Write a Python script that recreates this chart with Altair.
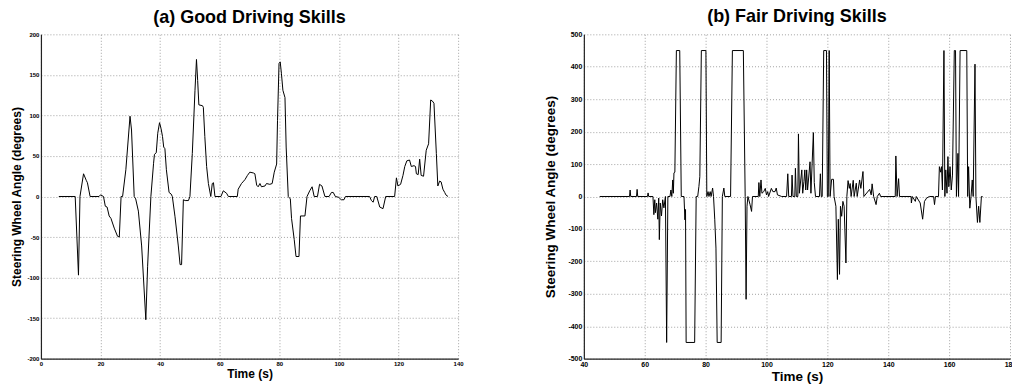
import altair as alt
import pandas as pd

# (a) Good driving skills: time (s) and steering wheel angle (degrees)
good_t = [6, 11.5, 12.6, 13.1, 14.3, 15.2, 15.6, 16.5, 19.5, 20, 21, 21.6, 22.2, 22.9, 23.5, 24.6, 25.7, 26.3,
          26.9, 27.4, 28.5, 29.9, 30.4, 31.3, 31.8, 32.7, 33.8, 35.2, 35.8, 36.9, 37.8, 38.1, 38.7, 39.2, 39.8,
          40.3, 40.8, 41.2, 41.6, 42.1, 43, 43.7, 44.1, 45, 46.1, 46.7, 47.2, 47.8, 48.4, 49.5, 50, 50.8, 51.7,
          52.2, 52.6, 53, 54.2, 54.5, 55, 55.6, 56.2, 57, 57.5, 57.9, 58.4, 60.4, 61.2, 62.3, 62.9, 65.9, 66.2,
          67.3, 67.8, 68.5, 69.3, 70.1, 71.3, 71.8, 72.4, 72.9, 73.5, 74, 75.2, 75.7, 76.8, 77.6, 78.3, 79.1,
          79.4, 79.9, 80.3, 80.7, 81.2, 81.9, 82.3, 83, 83.7, 84.1, 85, 85.6, 86.6, 87.1, 88.6, 89.3, 90.2, 91,
          91.7, 92.8, 93.5, 94.3, 95.3, 96.7, 97.5, 98.1, 98.8, 99.9, 100.8, 101.7, 102.2, 110.3, 110.9, 111.5,
          112, 112.7, 113.7, 114.8, 115.7, 118.7, 119.3, 119.8, 120.7, 121.5, 122.1, 122.8, 123.7, 124.3, 125.2,
          125.7, 126, 126.6, 127.1, 127.6, 128.4, 129.3, 130.1, 130.8, 131.3, 131.9, 132.7, 133.2, 133.8, 134.3,
          134.9, 135.5, 135.9, 136.6]
good_y = [0, 0, -97, 0, 28, 20, 17, 0, 0, 2, 0, -12, -13, -24, -27, -39, -49, -50,
          0, 0, 33, 99, 82, 0, -3, -18, -61, -152, -86, 0, 41, 52, 54, 78, 91,
          84, 74, 61, 59, 33, 5, 3, 0, -25, -61, -84, -84, -4, -5, -5, 0, 53, 131,
          169, 143, 113, 112, 110, 74, 37, 16, 0, 16, 17, 0, 0, 7, 4, 0, 0, 9,
          16, 18, 21, 26, 30, 29, 28, 14, 12, 16, 12, 13, 16, 15, 16, 30, 40,
          94, 164, 166, 152, 131, 122, 61, 0, -3, -27, -53, -74, -74, -24, -24, 0, 7, 12,
          0, 0, 15, 13, 0, 0, 5, 5, 0, -1, -4, -4, 0, 0, -5, -7,
          0, 0, -13, -15, 0, 0, 23, 13, 15, 26, 37, 44, 45, 37, 38,
          37, 28, 27, 46, 26, 25, 57, 65, 119, 118, 115, 53, 13, 19, 18,
          9, 5, 2, 0]

# (b) Fair driving skills
fair_t = [45.2, 55, 55.2, 55.4, 57.3, 57.5, 57.7, 60.9, 61.1, 61.3, 62.7, 63, 63.3, 63.5, 63.9, 64.3, 64.6,
          64.8, 65.1, 65.5, 65.9, 66.3, 66.8, 67.2, 67.6, 68.3, 68.6, 68.9, 69.2, 69.4, 69.6, 69.9, 70.4, 71.5,
          72, 72.9, 73.2, 73.4, 73.6, 76.4, 76.9, 77.4, 77.8, 78.1, 78.6, 80.1, 80.4, 80.8, 81.1, 81.5, 81.8,
          82.3, 82.6, 83, 83.4, 83.8, 85.1, 85.5, 86, 86.3, 88.2, 88.8, 92.4, 93, 93.3, 93.6, 93.9, 94.6, 95.1,
          95.4, 97.3, 97.5, 97.8, 98.2, 98.5, 99.1, 99.6, 100, 100.4, 100.7, 101.6, 102.1, 102.8, 103.2, 103.6,
          105, 106.6, 107, 107.3, 108.2, 108.4, 108.7, 109.3, 109.5, 109.8, 110.3, 110.5, 110.8, 111.6, 111.9,
          112.3, 112.6, 112.9, 113.2, 113.5, 114.3, 114.6, 115.4, 115.7, 116.1, 117.4, 117.7, 118, 118.3, 118.8,
          119.7, 120, 120.3, 120.6, 120.9, 121.4, 122, 122.2, 122.8, 123.3, 123.6, 124, 124.3, 124.7, 125.1,
          125.5, 126.1, 126.4, 126.8, 127.2, 127.5, 127.8, 128.5, 128.8, 129.5, 129.8, 130.6, 131, 131.7, 132,
          133.9, 134.4, 134.7, 135.2, 136, 136.4, 137.1, 137.5, 142.3, 142.5, 142.9, 143.4, 143.7, 147.5, 147.6,
          147.9, 148.9, 149.2, 150.5, 151.3, 151.9, 152.6, 153.5, 154.9, 155.2, 155.5, 156.5, 156.8, 157.2,
          157.5, 157.8, 158.3, 158.6, 158.9, 159.3, 159.6, 159.9, 160.3, 160.7, 161.1, 161.7, 162.1, 162.4,
          162.9, 163.1, 163.6, 165.8, 166.1, 166.4, 166.8, 167.2, 167.6, 167.9, 168.5, 168.8, 169.3, 169.7,
          170.1, 170.6, 171]
fair_y = [0, 0, 20, 0, 0, 22, 0, 0, 11, 0, 0, -56, -10, -50, -20, -70, -5,
          -133, -20, -60, -10, -35, 0, -450, 0, 0, 20, 0, 51, 10, 73, 75, 450, 450,
          0, 0, -72, -40, -450, -450, 0, 0, 31, 61, 450, 450, 0, 15, 0, 15, 0,
          26, 0, -70, -159, -450, -450, 0, 26, 0, 0, 450, 450, 0, -317, -30, 0, -25, -46,
          0, 0, 43, 0, 51, 10, 15, 25, 5, 15, 0, 25, 15, 15, 26, 5,
          0, 0, 70, 0, 0, 66, 0, 0, 87, 0, 0, 193, 10, 82, 10,
          46, 82, 20, 82, 20, 107, 10, 197, 43, 0, 0, 70, 0, 0, 450,
          450, 0, 0, 450, 0, 53, 53, 0, -30, -256, -70, -240, -30, -61, -15,
          -30, -205, 0, 49, 25, 40, 0, 50, 0, 41, 0, 51, 25, 77, 0,
          22, 5, 39, 0, -25, 0, 10, 0, 0, 125, 0, 55, 0, 0, -20,
          0, -15, 0, -20, -70, -15, -5, 0, 0, -25, 0, 0, 92, 75,
          92, 20, 450, 0, 82, 10, 123, 30, 92, 20, 66, 450, 450, 0,
          133, 0, 450, 450, 0, 92, -36, 0, 51, 0, 408, 0, -80, -30,
          -80, 0, 0]

good_x_ticks = [0, 20, 40, 60, 80, 100, 120, 140]
good_y_ticks = [-200, -150, -100, -50, 0, 50, 100, 150, 200]
fair_x_ticks = [40, 60, 80, 100, 120, 140, 160, 180]
fair_y_ticks = [-500, -400, -300, -200, -100, 0, 100, 200, 300, 400, 500]

FONT = "Liberation Sans"


def make_axis(values, title, label_size, title_size, label_pad, title_pad):
    return alt.Axis(values=values, title=title, labelFontSize=label_size, labelFontWeight="bold",
                    labelFont=FONT, labelColor="black", titleFont=FONT, titleFontSize=title_size,
                    titleFontWeight="bold", titleColor="black", labelPadding=label_pad,
                    titlePadding=title_pad, grid=True, gridColor="#8c8c8c", gridDash=[1, 2],
                    gridWidth=0.8, ticks=False, domainColor="#222222", domainWidth=1.2,
                    labelExpr="'' + datum.value", labelFlush=False, labelOverlap=False)


def make_title(text):
    return alt.TitleParams(text, fontSize=18, font=FONT, fontWeight="bold", color="black",
                           offset=4, anchor="middle")


good_df = pd.DataFrame({"t": good_t, "y": good_y, "i": list(range(len(good_t)))})
fair_df = pd.DataFrame({"t": fair_t, "y": fair_y, "i": list(range(len(fair_t)))})

left = alt.Chart(good_df, title=make_title("(a) Good Driving Skills")).mark_line(
    color="black", strokeWidth=1).encode(
    x=alt.X("t:Q", scale=alt.Scale(domain=[0, 140], nice=False, zero=False),
            axis=make_axis(good_x_ticks, "Time (s)", 6, 12, 2, 2)),
    y=alt.Y("y:Q", scale=alt.Scale(domain=[-200, 200], nice=False),
            axis=make_axis(good_y_ticks, "Steering Wheel Angle (degrees)", 6, 12, 2, 3)),
    order=alt.Order("i:Q"),
).properties(width=418, height=325)

right = alt.Chart(fair_df, title=make_title("(b) Fair Driving Skills")).mark_line(
    color="black", strokeWidth=1).encode(
    x=alt.X("t:Q", scale=alt.Scale(domain=[40, 180], nice=False, zero=False),
            axis=make_axis(fair_x_ticks, "Time (s)", 7, 13.5, 2, 2)),
    y=alt.Y("y:Q", scale=alt.Scale(domain=[-500, 500], nice=False),
            axis=make_axis(fair_y_ticks, "Steering Wheel Angle (degrees)", 7, 13.5, 2, 10)),
    order=alt.Order("i:Q"),
).properties(width=427, height=325)

chart = alt.hconcat(left, right, spacing=79).configure_view(strokeWidth=0).properties(
    padding={"left": 2, "top": 0, "right": -4, "bottom": 0}, background="white")

chart.save("out.html", embed_options={"renderer": "svg", "actions": False})
